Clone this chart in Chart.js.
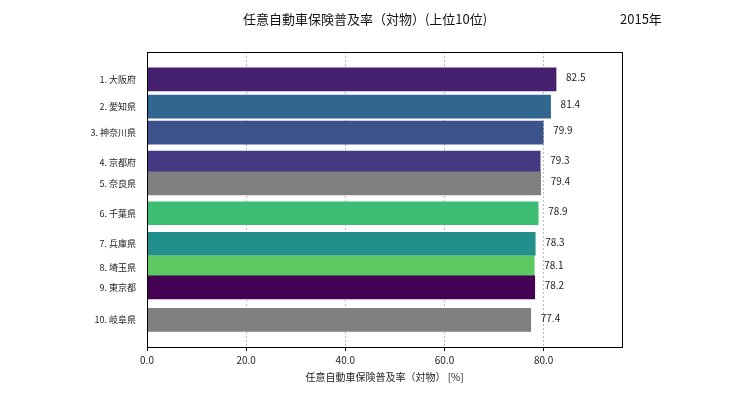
<!DOCTYPE html>
<html><head><meta charset="utf-8">
<script src="https://cdn.jsdelivr.net/npm/chart.js@4/dist/chart.umd.min.js"></script>
<style>html,body{margin:0;background:#fff}#w{width:730px;height:410px}</style>
</head><body><div id="w"><canvas id="c"></canvas></div>
<script>
const categories=["1. 大阪府","2. 愛知県","3. 神奈川県","4. 京都府","5. 奈良県","6. 千葉県","7. 兵庫県","8. 埼玉県","9. 東京都","10. 岐阜県"];
const values=[82.5,81.4,79.9,79.3,79.4,78.9,78.3,78.1,78.2,77.4];
const rowPos=[0.02,1.15,2.23,3.47,4.33,5.57,6.84,7.81,8.64,9.99];
const colors=["#45206e","#31668e","#3b528b","#443a83","#808080","#3dbc74","#21908d","#5ec962","#440154","#808080"];
const xTicks=[0,20,40,60,80];
const F="'Noto Sans CJK JP','Noto Sans',sans-serif";
const labelPlugin={id:'lbl',afterDatasetsDraw(ch){const ctx=ch.ctx;const m=ch.getDatasetMeta(0);ctx.save();ctx.font="10px "+F;ctx.fillStyle="#222";ctx.textBaseline="middle";
m.data.forEach((b,i)=>{ctx.fillText(values[i].toFixed(1),b.x+10,b.y-2);});
ctx.font="13px "+F;ctx.textAlign="center";ctx.fillStyle="#111";ctx.fillText("任意自動車保険普及率（対物）(上位10位)",365,19);ctx.textAlign="left";ctx.fillText("2015年",620,19);
const a=ch.chartArea;ctx.strokeStyle="#000";ctx.lineWidth=1;ctx.strokeRect(a.left+0.5,a.top+0.5,a.right-a.left,a.bottom-a.top);ctx.restore();}};
new Chart(document.getElementById('c'),{type:'bar',
data:{datasets:[{data:values.map((v,i)=>({x:v,y:rowPos[i]})),backgroundColor:colors,barThickness:23}]},
options:{indexAxis:'y',responsive:true,maintainAspectRatio:false,animation:false,
layout:{padding:{left:0,top:52,right:108,bottom:23}},
plugins:{legend:{display:false},tooltip:{enabled:false}},
scales:{
x:{type:'linear',min:0,max:95.8,afterBuildTicks(s){s.ticks=xTicks.map(v=>({value:v}));},
ticks:{callback:v=>v.toFixed(1),font:{size:10,family:F},color:"#222",maxRotation:0},
grid:{color:"#bbb",drawTicks:true,tickColor:"#000",tickLength:4},border:{dash:[2,2],display:false},
title:{display:true,text:"任意自動車保険普及率（対物） [%]",font:{size:10,family:F},color:"#222",padding:{top:2}}},
y:{type:'linear',reverse:true,min:-0.5,max:10.5,afterBuildTicks(s){s.ticks=rowPos.map(v=>({value:v}));},
afterFit(s){s.width=147;},
ticks:{callback:(v,i)=>categories[i],font:{size:9,family:F},color:"#222",autoSkip:false},
grid:{display:false,drawTicks:true},border:{display:false}}}},
plugins:[labelPlugin]});
</script></body></html>
